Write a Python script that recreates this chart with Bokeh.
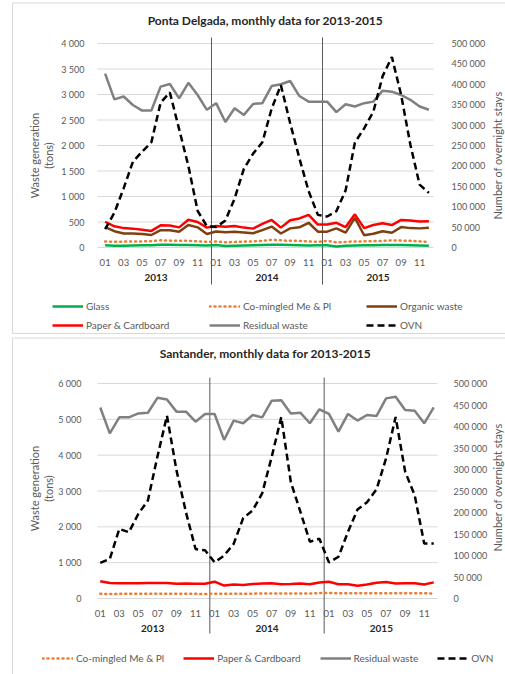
from math import pi
from bokeh.plotting import figure
from bokeh.models import (Range1d, LinearAxis, FixedTicker, Legend, LegendItem,
                          Label, ColumnDataSource)
from bokeh.layouts import column
from bokeh.embed import file_html
from bokeh.resources import INLINE
from bokeh.core.properties import value

# ---------------- data ----------------
months = list(range(1, 37))
month_ticks = list(range(1, 37, 2))
month_tick_labels = ["01", "03", "05", "07", "09", "11"] * 3
years = ["2013", "2014", "2015"]
year_centers = [6.5, 18.5, 30.5]
year_breaks = [12.5, 24.5]

# Ponta Delgada (tons / overnight stays)
pd_glass = [45, 35, 35, 40, 45, 45, 55, 55, 50, 50, 45, 40,
            50, 30, 35, 40, 45, 50, 55, 55, 50, 45, 40, 45,
            45, 20, 35, 40, 45, 45, 50, 50, 50, 45, 40, 35]
pd_comingled = [120, 110, 115, 120, 120, 125, 140, 135, 130, 130, 120, 110,
                120, 100, 110, 115, 120, 130, 150, 140, 130, 130, 120, 110,
                130, 100, 110, 120, 120, 125, 130, 140, 135, 130, 120, 110]
pd_organic = [400, 320, 275, 275, 265, 245, 340, 340, 310, 440, 395, 265,
              315, 300, 310, 295, 280, 340, 410, 275, 375, 395, 485, 310,
              310, 375, 290, 580, 240, 270, 320, 290, 400, 380, 375, 385]
pd_paper = [505, 415, 380, 370, 350, 325, 435, 430, 395, 545, 500, 390,
            420, 405, 420, 390, 370, 465, 540, 390, 535, 570, 640, 450,
            450, 485, 400, 650, 380, 440, 475, 440, 540, 530, 510, 515]
pd_residual = [3410, 2905, 2960, 2795, 2685, 2685, 3155, 3205, 2925, 3230, 2990, 2700,
               2830, 2460, 2730, 2600, 2815, 2830, 3165, 3200, 3265, 2970, 2860, 2860,
               2860, 2655, 2810, 2765, 2830, 2860, 3075, 3055, 2990, 2895, 2765, 2700]
pd_ovn = [45000, 85000, 145000, 210000, 235000, 258000, 355000, 380000, 290000, 200000, 90000, 52000,
          50000, 66000, 120000, 193000, 230000, 258000, 340000, 398000, 305000, 219000, 138000, 80000,
          76000, 89000, 140000, 257000, 292000, 333000, 420000, 467000, 374000, 252000, 154000, 134000]
pd_left_ticks = [0, 500, 1000, 1500, 2000, 2500, 3000, 3500, 4000]
pd_left_labels = ["0", "500", "1 000", "1 500", "2 000", "2 500", "3 000", "3 500", "4 000"]
pd_right_ticks = [0, 50000, 100000, 150000, 200000, 250000, 300000, 350000, 400000, 450000, 500000]
pd_right_labels = ["0", "50 000", "100 000", "150 000", "200 000", "250 000", "300 000",
                   "350 000", "400 000", "450 000", "500 000"]

# Santander
st_comingled = [130, 125, 130, 130, 130, 135, 135, 130, 130, 130, 130, 125,
                135, 130, 135, 135, 135, 140, 140, 140, 140, 140, 140, 150,
                155, 145, 145, 145, 145, 150, 150, 150, 150, 145, 145, 140]
st_paper = [480, 430, 425, 425, 425, 430, 435, 435, 410, 420, 415, 410,
            470, 360, 390, 380, 405, 420, 425, 395, 405, 420, 395, 445,
            465, 400, 395, 355, 390, 440, 460, 420, 425, 425, 390, 450]
st_residual = [5330, 4610, 5055, 5055, 5165, 5185, 5600, 5555, 5215, 5215, 4935, 5150,
               5150, 4425, 4965, 4890, 5120, 5055, 5520, 5535, 5165, 5185, 4890, 5280,
               5150, 4655, 5150, 4965, 5120, 5095, 5585, 5630, 5260, 5240, 4890, 5335]
st_ovn = [83000, 92000, 162000, 154000, 197000, 228000, 330000, 425000, 298000, 200000, 115000, 112000,
          84000, 100000, 127000, 187000, 205000, 245000, 330000, 422000, 271000, 202000, 132000, 139000,
          84000, 97000, 155000, 207000, 224000, 254000, 326000, 422000, 295000, 240000, 128000, 128000]
st_left_ticks = [0, 1000, 2000, 3000, 4000, 5000, 6000]
st_left_labels = ["0", "1 000", "2 000", "3 000", "4 000", "5 000", "6 000"]
st_right_ticks = pd_right_ticks
st_right_labels = pd_right_labels

# ---------------- styles ----------------
FONT = "Lato"
GRAY_TXT = "#595959"
STY = {
    "Glass": dict(line_color="#00B050", line_width=2.5),
    "Co-mingled Me & Pl": dict(line_color="#ED7D31", line_width=2.5, line_dash="1 4", line_cap="round"),
    "Organic waste": dict(line_color="#7F3F0F", line_width=2.5),
    "Paper & Cardboard": dict(line_color="#FF0000", line_width=2.5),
    "Residual waste": dict(line_color="#808080", line_width=2.5),
    "OVN": dict(line_color="#000000", line_width=2.5, line_dash="7 4"),
}


def make_chart(title, series, ovn, lticks, llabels, rticks, rlabels, g, ncols):
    W, H = g["W"], g["H"]
    fx0, fx1 = g["fx0"], g["fx1"]
    ymax, rmax = lticks[-1], rticks[-1]
    k = ymax / (g["py_zero"] - g["py_top"])

    def yv(py):
        return (g["py_zero"] - py) * k

    def xv(px):
        return 0.5 + (px - fx0) * 36.0 / (fx1 - fx0)

    y_start, y_end = yv(H), yv(0)
    ratio = rmax / ymax
    p = figure(width=W, height=H, x_range=Range1d(xv(0), xv(W)),
               y_range=Range1d(y_start, y_end), output_backend="svg",
               toolbar_location=None, x_axis_location=None, title=None,
               min_border_left=0, min_border_right=0,
               min_border_top=0, min_border_bottom=0)
    p.extra_y_ranges = {"ovn": Range1d(y_start * ratio, y_end * ratio)}
    p.outline_line_color = None
    p.background_fill_color = "white"
    p.border_fill_color = "white"
    for gr in p.xgrid:
        gr.visible = False
    for gr in p.ygrid:
        gr.visible = False

    # faint chart-area border
    p.quad(left=xv(g["bx0"]), right=xv(W + 5), top=yv(g["by0"]), bottom=yv(g["by1"]),
           fill_color=None, line_color="#D9D9D9", line_width=1)

    # horizontal gridlines at the value ticks
    p.segment(x0=xv(g["gx0"]), x1=xv(g["gx1"]), y0=lticks, y1=lticks,
              line_color="#D9D9D9", line_width=1)

    ax = p.yaxis[0]
    ax.fixed_location = 0.5
    ax.ticker = FixedTicker(ticks=lticks)
    ax.major_label_overrides = dict(zip(lticks, llabels))
    rax = LinearAxis(y_range_name="ovn", ticker=FixedTicker(ticks=rticks),
                     major_label_overrides=dict(zip(rticks, rlabels)),
                     fixed_location=36.5)
    p.add_layout(rax, "right")
    for a, so in ((ax, g["lstand"]), (rax, g["rstand"])):
        a.axis_line_color = None
        a.major_tick_line_color = None
        a.minor_tick_line_color = None
        a.major_label_text_font = FONT
        a.major_label_text_font_size = "9px"
        a.major_label_text_color = GRAY_TXT
        a.major_label_standoff = so

    # year separators
    p.segment(x0=year_breaks, x1=year_breaks, y0=yv(g["py_sep0"]), y1=yv(g["py_sep1"]),
              line_color="#595959", line_width=1)
    # category labels
    p.text(x=month_ticks, y=yv(g["py_month"]), text=month_tick_labels,
           text_align="center", text_baseline="middle", text_font=value(FONT),
           text_font_size="9.5px", text_color=GRAY_TXT)
    p.text(x=year_centers, y=yv(g["py_year"]), text=years,
           text_align="center", text_baseline="middle", text_font=value(FONT),
           text_font_size="10px", text_font_style="bold", text_color="#262626")

    src = ColumnDataSource(dict(m=months, **{f"s{i}": s[1] for i, s in enumerate(series)}, ovn=ovn))
    rend = {}
    for i, (name, _) in enumerate(series):
        rend[name] = p.line(x="m", y=f"s{i}", source=src, **STY[name])
    rend["OVN"] = p.line(x="m", y="ovn", source=src, y_range_name="ovn", **STY["OVN"])

    legend = Legend(items=[LegendItem(label=n, renderers=[rend[n]]) for n in g["legend_order"]],
                    location=(g["lx"], g["ly"]), orientation="horizontal",
                    ncols=ncols, glyph_width=31, glyph_height=14, label_height=14,
                    label_standoff=3, label_width=g["label_width"], spacing=g["spacing"],
                    padding=0, margin=0, border_line_color=None, background_fill_alpha=0,
                    label_text_font=FONT, label_text_font_size="10px",
                    label_text_color=GRAY_TXT)
    p.add_layout(legend)

    p.add_layout(Label(x=xv(g["title_x"]), y=yv(g["title_y"]), text=title,
                       text_align="center", text_baseline="middle", text_font=FONT,
                       text_font_size="12px", text_font_style="bold", text_color="#262626"))
    for txt, px in (("Waste generation", g["lt_x1"]), ("(tons)", g["lt_x2"])):
        p.add_layout(Label(x=xv(px), y=yv(g["lt_y"]), text=txt, angle=pi / 2,
                           text_align="center", text_baseline="middle", text_font=FONT,
                           text_font_size="11px", text_color=GRAY_TXT))
    p.add_layout(Label(x=xv(g["rt_x"]), y=yv(g["rt_y"]), text="Number of overnight stays",
                       angle=pi / 2, text_align="center", text_baseline="middle",
                       text_font=FONT, text_font_size="11px", text_color=GRAY_TXT))
    return p


g_top = dict(W=505, H=336, fx0=100, fx1=433, gx0=97, gx1=433, bx0=12, by0=2.5, by1=333,
             py_zero=247, py_top=43, py_sep0=37, py_sep1=284, py_month=262, py_year=277,
             lstand=10, rstand=12, lx=52, ly=4, label_width=118, spacing=5,
             legend_order=["Glass", "Co-mingled Me & Pl", "Organic waste",
                           "Paper & Cardboard", "Residual waste", "OVN"],
             title_x=265, title_y=20, lt_x1=34, lt_x2=48, lt_y=155, rt_x=497, rt_y=155)
g_bot = dict(W=505, H=338, fx0=95, fx1=438, gx0=97, gx1=437, bx0=12, by0=1.5, by1=345,
             py_zero=262, py_top=47, py_sep0=41, py_sep1=297, py_month=277, py_year=292,
             lstand=8, rstand=9, lx=42, ly=9, label_width=0, spacing=19,
             legend_order=["Co-mingled Me & Pl", "Paper & Cardboard", "Residual waste", "OVN"],
             title_x=265, title_y=17, lt_x1=34, lt_x2=48, lt_y=152, rt_x=497, rt_y=151)

p1 = make_chart("Ponta Delgada, monthly data for 2013-2015",
                [("Glass", pd_glass), ("Co-mingled Me & Pl", pd_comingled),
                 ("Organic waste", pd_organic), ("Paper & Cardboard", pd_paper),
                 ("Residual waste", pd_residual)],
                pd_ovn, pd_left_ticks, pd_left_labels, pd_right_ticks, pd_right_labels, g_top, 3)
p2 = make_chart("Santander, monthly data for 2013-2015",
                [("Co-mingled Me & Pl", st_comingled), ("Paper & Cardboard", st_paper),
                 ("Residual waste", st_residual)],
                st_ovn, st_left_ticks, st_left_labels, st_right_ticks, st_right_labels, g_bot, 4)

layout = column(p1, p2, spacing=0)
open("out.html", "w").write(file_html(layout, INLINE))
